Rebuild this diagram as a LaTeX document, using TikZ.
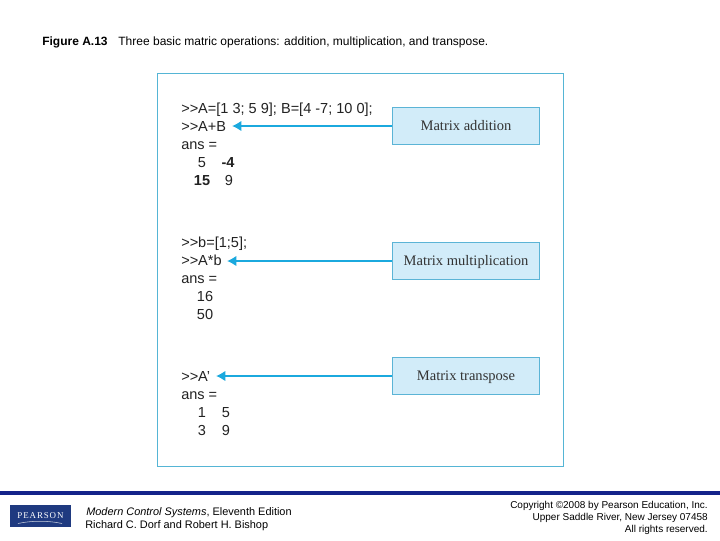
\documentclass[tikz,border=0pt]{standalone}
\usepackage{fontspec}
\setmainfont{Liberation Sans}
\newfontfamily\serifbox{Liberation Serif}
\newfontfamily\logofont[LetterSpace=10]{Liberation Serif}
\usetikzlibrary{arrows.meta}
\definecolor{boxfill}{HTML}{D2ECF9}
\definecolor{boxline}{HTML}{5BB4D6}
\definecolor{arrowblue}{HTML}{1BA9DE}
\definecolor{panelline}{HTML}{55B5D5}
\definecolor{barblue}{HTML}{14238A}
\definecolor{logoblue}{HTML}{1F3A80}
\definecolor{codegray}{HTML}{222222}
\tikzset{
  x=0.75pt,y=-0.75pt,
  code/.style={anchor=base west,inner sep=0pt,font=\fontsize{10.9}{12}\selectfont,text=codegray},
  num/.style={anchor=base,inner sep=0pt,font=\fontsize{10.9}{12}\selectfont,text=codegray},
  labelbox/.style={draw=boxline,fill=boxfill,line width=0.9pt,minimum width=110.25pt,minimum height=27.75pt,inner sep=0pt,text height=8.7pt,text depth=2.2pt,font=\serifbox\fontsize{10.9}{12}\selectfont,text=black!80},
  pointer/.style={draw=arrowblue,line width=2.2pt,-{Latex[length=7pt,width=8pt]}},
  foot/.style={inner sep=0pt,text=black},
  footl/.style={foot,font=\fontsize{8.2}{9.6}\selectfont},
  footr/.style={foot,font=\fontsize{7.5}{9.6}\selectfont},
}
\begin{document}
\begin{tikzpicture}
\useasboundingbox (0,0) rectangle (720,540);
\fill[white] (0,0) rectangle (720,540);
\node[anchor=base west,inner sep=0pt,font=\fontsize{9}{10}\selectfont] (title) at (42,45.5) {\textbf{Figure A.13}\hspace{0.9em}Three basic matric operations: addition, multiplication, and transpose.};
\node[draw=panelline,line width=0.95pt,minimum width=304.5pt,minimum height=294.75pt,inner sep=0pt] (panel) at (360.5,270) {};

\node[code] (c1) at (181,113) {>{}>A=[1 3; 5 9]; B=[4 -7; 10 0];};
\node[code] (c2) at (181,131) {>{}>A+B};
\node[code] (c3) at (181,149) {ans =};
\node[num] (n1) at (202,167) {5};
\node[num] (n2) at (228,167) {\textbf{-4}};
\node[num] (n3) at (202,185) {\textbf{15}};
\node[num] (n4) at (229,185) {9};

\node[code] (c4) at (181,247) {>{}>b=[1;5];};
\node[code] (c5) at (181,265) {>{}>A*b};
\node[code] (c6) at (181,283) {ans =};
\node[num] (n5) at (205,301) {16};
\node[num] (n6) at (205,319) {50};

\node[code] (c7) at (181,381.5) {>{}>A'};
\node[code] (c8) at (181,399.5) {ans =};
\node[num] (n7) at (202,417) {1};
\node[num] (n8) at (226,417) {5};
\node[num] (n9) at (202,435) {3};
\node[num] (n10) at (226,435) {9};

\node[labelbox] (b1) at (466,126) {Matrix addition};
\node[labelbox] (b2) at (466,261) {Matrix multiplication};
\node[labelbox] (b3) at (466,376) {Matrix transpose};

\coordinate (t1) at (232,126);
\coordinate (t2) at (227,261);
\coordinate (t3) at (216,376);
\draw[pointer] (b1.west) -- (t1);
\draw[pointer] (b2.west) -- (t2);
\draw[pointer] (b3.west) -- (t3);

\fill[barblue] (0,491) rectangle (720,494.5);
\node[fill=logoblue,minimum width=45.75pt,minimum height=16.5pt,inner sep=0pt,text=white,font=\logofont\fontsize{6.7}{8}\selectfont] (logo) at (40.5,516) {\raisebox{1.4pt}{PEARSON}};
\draw[white!75!logoblue,line width=0.4pt] (18,523.5) .. controls (31,520.5) and (49,520.5) .. (62,523.5);

\node[footl,anchor=base west] (f1) at (86,515) {\textit{Modern Control Systems}, Eleventh Edition};
\node[footl,anchor=base west] (f2) at (85,528) {Richard C. Dorf and Robert H. Bishop};
\node[footr,anchor=base east] (f3) at (708,508.5) {Copyright ©2008 by Pearson Education, Inc.};
\node[footr,anchor=base east] (f4) at (708,520.5) {Upper Saddle River, New Jersey 07458};
\node[footr,anchor=base east] (f5) at (708,532.5) {All rights reserved.};
\end{tikzpicture}
\end{document}
